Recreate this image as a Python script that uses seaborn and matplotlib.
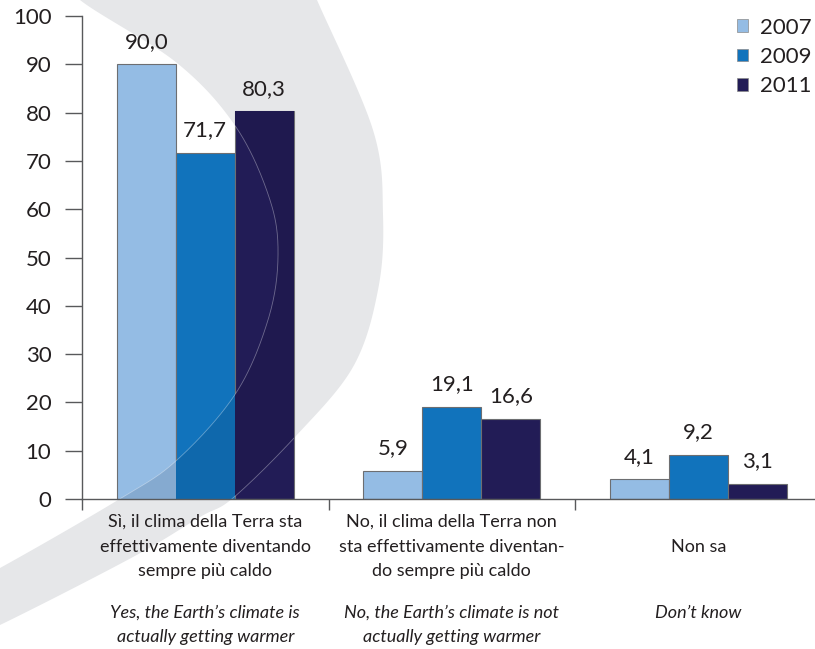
import numpy as np
import pandas as pd
import matplotlib
matplotlib.use("Agg")
import matplotlib.pyplot as plt
import seaborn as sns
from matplotlib.path import Path
from matplotlib.patches import PathPatch
from matplotlib.ticker import FixedLocator
import matplotlib.colors as mcolors

# ---------------- data ----------------
cat_keys = ["si", "no", "ns"]
labels_it = [
    ["Sì, il clima della Terra sta", "effettivamente diventando", "sempre più caldo"],
    ["No, il clima della Terra non", "sta effettivamente diventan-", "do sempre più caldo"],
    ["", "Non sa", ""],
]
labels_en = [
    ["Yes, the Earth’s climate is", "actually getting warmer"],
    ["No, the Earth’s climate is not", "actually getting warmer"],
    ["Don’t know", ""],
]
years = ["2007", "2009", "2011"]
v2007 = [90.0, 5.9, 4.1]
v2009 = [71.7, 19.1, 9.2]
v2011 = [80.3, 16.6, 3.1]
yticks = list(range(0, 101, 10))

colors = ["#94bce4", "#1173bc", "#221c56"]
band_color = "#e6e7e9"
text_color = "#231f20"
axis_color = "#58595b"

# decorative crescent (figure pixel coordinates, y downward)
inner_edge = [(60, -30), (80, 0), (177, 63), (236, 127), (270, 200), (278, 257),
              (268, 320), (236, 393), (177, 460), (118, 500), (0, 568), (-60, 598)]
outer_edge = [(300, -40), (317, 0), (373, 130), (383, 215), (378, 290), (353, 367),
              (295, 437), (233, 498), (200, 517), (133, 557), (0, 625), (-60, 650)]

# ---------------- style ----------------
sns.set_style("white")
plt.rcParams["font.family"] = ["Lato", "DejaVu Sans"]
plt.rcParams["text.color"] = text_color

W, H = 815, 649
fig = plt.figure(figsize=(W / 100, H / 100), dpi=100)


def smooth(pts, n=24):
    p = np.asarray(pts, float)
    p = np.vstack([2 * p[0] - p[1], p, 2 * p[-1] - p[-2]])
    out = []
    t = np.linspace(0, 1, n, endpoint=False)[:, None]
    for i in range(1, len(p) - 2):
        p0, p1, p2, p3 = p[i - 1], p[i], p[i + 1], p[i + 2]
        out.append(0.5 * (2 * p1 + (-p0 + p2) * t + (2 * p0 - 5 * p1 + 4 * p2 - p3) * t ** 2
                          + (-p0 + 3 * p1 - 3 * p2 + p3) * t ** 3))
    out.append(p[-2][None, :])
    return np.vstack(out)


inner_c = smooth(inner_edge)
outer_c = smooth(outer_edge)
band_pts = np.vstack([outer_c, inner_c[::-1], outer_c[:1]])
band_path = Path(band_pts, closed=True)

bg = fig.add_axes([0, 0, 1, 1], zorder=0)
bg.set_xlim(0, W)
bg.set_ylim(H, 0)
bg.axis("off")
bg.add_patch(PathPatch(band_path, facecolor=band_color, edgecolor="none"))

ax = fig.add_axes([82 / W, 150 / H, (821.5 - 82) / W, 483 / H], zorder=1)
ax.set_facecolor("none")

df = pd.DataFrame({
    "cat": cat_keys * 3,
    "year": np.repeat(years, 3),
    "value": v2007 + v2009 + v2011,
})

sns.barplot(data=df, x="cat", y="value", hue="year", order=cat_keys, hue_order=years,
            palette=colors, saturation=1, width=0.718, gap=0, errorbar=None,
            edgecolor="#6d6e71", linewidth=0.8, ax=ax)

ax.set_xlim(-0.5, 2.5)
ax.set_ylim(0, 100)
ax.set_xlabel("")
ax.set_ylabel("")

# value labels
for cont in ax.containers:
    ax.bar_label(cont, labels=[f"{b.get_height():.1f}".replace(".", ",") for b in cont],
                 padding=9, fontsize=16, color=text_color)

# overlay of the crescent on the bars (multiply look)
band_rgb = np.array(mcolors.to_rgb(band_color))
for cont in ax.containers:
    for bar in cont:
        fc = np.array(bar.get_facecolor()[:3]) * band_rgb
        ov = PathPatch(band_path, transform=bg.transData, facecolor=fc,
                       edgecolor="none", zorder=bar.get_zorder() + 0.1)
        ax.add_patch(ov)
        ov.set_clip_path(bar)
        for curve in (inner_c, outer_c):
            ln = PathPatch(Path(curve), transform=bg.transData, fill=False,
                           edgecolor="white", alpha=0.35, lw=0.6,
                           zorder=bar.get_zorder() + 0.2)
            ax.add_patch(ln)
            ln.set_clip_path(bar)

# spines & ticks
for s in ["top", "right"]:
    ax.spines[s].set_visible(False)
for s in ["left", "bottom"]:
    ax.spines[s].set_color(axis_color)
    ax.spines[s].set_linewidth(1.0)

ax.yaxis.set_major_locator(FixedLocator(yticks))
ax.tick_params(axis="y", which="major", direction="out", length=12, width=1.0,
               color=axis_color, labelsize=16, labelcolor=text_color, pad=10, left=True)
ax.set_xticks([0, 1, 2])
ax.set_xticklabels(["", "", ""])
ax.tick_params(axis="x", which="major", length=0)
ax.xaxis.set_minor_locator(FixedLocator([-0.5, 0.5, 1.5]))
ax.tick_params(axis="x", which="minor", direction="out", length=8, width=1.0,
               color=axis_color, bottom=True)

# category labels
it_offsets = [23, 48, 72]
en_offsets = [114, 138]
for i in range(len(cat_keys)):
    for line, off in zip(labels_it[i], it_offsets):
        if line:
            ax.annotate(line, xy=(i, 0), xycoords=("data", "axes fraction"),
                        xytext=(0, -off * 0.72), textcoords="offset points",
                        ha="center", va="center", fontsize=13, color=text_color,
                        annotation_clip=False)
    for line, off in zip(labels_en[i], en_offsets):
        if line:
            ax.annotate(line, xy=(i, 0), xycoords=("data", "axes fraction"),
                        xytext=(0, -off * 0.72), textcoords="offset points",
                        ha="center", va="center", fontsize=13, style="italic",
                        color=text_color, annotation_clip=False)

# legend
handles, labs = ax.get_legend_handles_labels()
if ax.get_legend() is not None:
    ax.get_legend().remove()
leg = ax.legend(handles, labs, loc="upper left", bbox_to_anchor=(737 / W, 1 - 17.5 / H),
                bbox_transform=fig.transFigure, frameon=False, fontsize=16,
                handlelength=0.5, handleheight=0.5, handletextpad=0.55,
                labelspacing=0.42, borderpad=0, borderaxespad=0)
for h in leg.legend_handles:
    h.set_edgecolor("#8a8a8a")
    h.set_linewidth(0.5)

fig.savefig("out.png", dpi=100)
